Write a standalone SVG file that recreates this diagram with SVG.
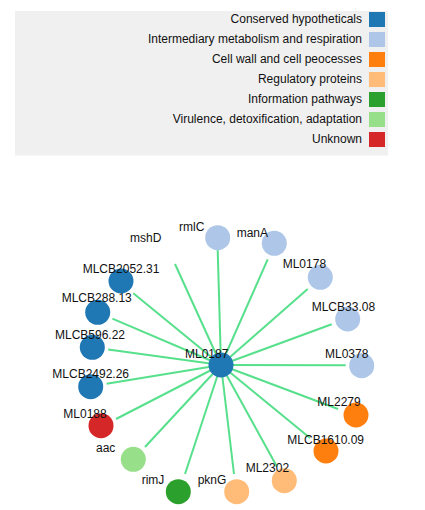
<svg xmlns="http://www.w3.org/2000/svg" width="425" height="510" viewBox="0 0 425 510">
<style>
text{font-family:"Liberation Sans",Arial,sans-serif;font-size:12px;fill:#111}
.lg text{text-anchor:end}
.edges line{stroke:#57e08c;stroke-width:2}
circle{r:12.5}
</style>
<rect width="425" height="510" fill="#fff"/>
<g id="legend" class="lg">
<rect x="15" y="11" width="373" height="144.5" fill="#f0f0f0"/>
<rect x="369" y="12" width="16" height="15" fill="#1f77b4"/><text x="362" y="23.3">Conserved hypotheticals</text>
<rect x="369" y="32" width="16" height="15" fill="#aec7e8"/><text x="362" y="43.3">Intermediary metabolism and respiration</text>
<rect x="369" y="52" width="16" height="15" fill="#ff7f0e"/><text x="362" y="63.3">Cell wall and cell peocesses</text>
<rect x="369" y="72" width="16" height="15" fill="#ffbb78"/><text x="362" y="83.3">Regulatory proteins</text>
<rect x="369" y="92" width="16" height="15" fill="#2ca02c"/><text x="362" y="103.3">Information pathways</text>
<rect x="369" y="112" width="16" height="15" fill="#98df8a"/><text x="362" y="123.3">Virulence, detoxification, adaptation</text>
<rect x="369" y="132" width="16" height="15" fill="#d62728"/><text x="362" y="143.3">Unknown</text>
</g>
<g id="connectors" class="edges">
<line x1="221" y1="365" x2="217.7" y2="250"/>
<line x1="221" y1="365" x2="175" y2="264"/>
<line x1="221" y1="365" x2="267.7" y2="259.3"/>
<line x1="221" y1="365" x2="307.7" y2="289"/>
<line x1="221" y1="365" x2="331.7" y2="324.3"/>
<line x1="221" y1="365" x2="345.7" y2="365.3"/>
<line x1="221" y1="365" x2="338" y2="409"/>
<line x1="221" y1="365" x2="310" y2="438"/>
<line x1="221" y1="365" x2="277" y2="466.7"/>
<line x1="221" y1="365" x2="234" y2="474"/>
<line x1="221" y1="365" x2="185" y2="474"/>
<line x1="221" y1="365" x2="145" y2="447"/>
<line x1="221" y1="365" x2="116" y2="419"/>
<line x1="221" y1="365" x2="106.6" y2="383.8"/>
<line x1="221" y1="365" x2="108.2" y2="349.5"/>
<line x1="221" y1="365" x2="112.4" y2="318.6"/>
<line x1="221" y1="365" x2="133.3" y2="293.3"/>
</g>
<g id="n-rmlC"><circle cx="217.7" cy="237.7" r="12.5" fill="#aec7e8"/><text x="179" y="230.5">rmlC</text></g>
<g id="n-mshD"><circle cx="168" cy="250" r="12.5" fill="#fff"/><text x="130" y="241.7">mshD</text></g>
<g id="n-manA"><circle cx="274.3" cy="243.3" r="12.5" fill="#aec7e8"/><text x="236.7" y="236.7">manA</text></g>
<g id="n-ML0178"><circle cx="320.3" cy="277.3" r="12.5" fill="#aec7e8"/><text x="282.7" y="268.3">ML0178</text></g>
<g id="n-MLCB33.08"><circle cx="347.7" cy="319" r="12.5" fill="#aec7e8"/><text x="311.7" y="311">MLCB33.08</text></g>
<g id="n-ML0378"><circle cx="361.7" cy="365.7" r="12.5" fill="#aec7e8"/><text x="325" y="358.3">ML0378</text></g>
<g id="n-ML2279"><circle cx="356" cy="415" r="12.5" fill="#ff7f0e"/><text x="317.3" y="406">ML2279</text></g>
<g id="n-MLCB1610.09"><circle cx="326" cy="451" r="12.5" fill="#ff7f0e"/><text x="287.3" y="444">MLCB1610.09</text></g>
<g id="n-ML2302"><circle cx="284.3" cy="480.7" r="12.5" fill="#ffbb78"/><text x="245.7" y="471.7">ML2302</text></g>
<g id="n-pknG"><circle cx="236.7" cy="491.7" r="12.5" fill="#ffbb78"/><text x="197.7" y="484">pknG</text></g>
<g id="n-rimJ"><circle cx="178.3" cy="491.7" r="12.5" fill="#2ca02c"/><text x="141.7" y="484">rimJ</text></g>
<g id="n-aac"><circle cx="133.3" cy="459.3" r="12.5" fill="#98df8a"/><text x="96" y="452.3">aac</text></g>
<g id="n-ML0188"><circle cx="101" cy="425.7" r="12.5" fill="#d62728"/><text x="63.3" y="418.3">ML0188</text></g>
<g id="n-MLCB2492.26"><circle cx="90.7" cy="386.7" r="12.5" fill="#1f77b4"/><text x="52.3" y="378.3">MLCB2492.26</text></g>
<g id="n-MLCB596.22"><circle cx="92.3" cy="347.3" r="12.5" fill="#1f77b4"/><text x="55" y="339">MLCB596.22</text></g>
<g id="n-MLCB288.13"><circle cx="97.7" cy="312.3" r="12.5" fill="#1f77b4"/><text x="61.7" y="302.3">MLCB288.13</text></g>
<g id="n-MLCB2052.31"><circle cx="121" cy="281" r="12.5" fill="#1f77b4"/><text x="82.7" y="272.7">MLCB2052.31</text></g>
<g id="n-ML0187"><circle cx="221" cy="365" r="12.5" fill="#1f77b4"/><text x="185" y="357.5">ML0187</text></g>
</svg>
